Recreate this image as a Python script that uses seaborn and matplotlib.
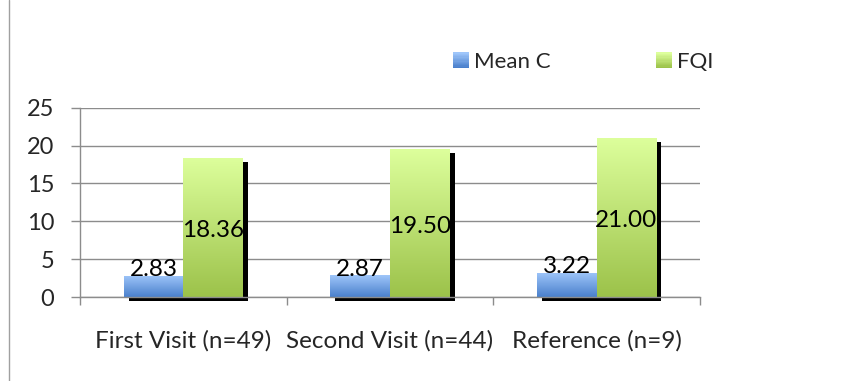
import numpy as np
import pandas as pd
import matplotlib
matplotlib.use("Agg")
import matplotlib.pyplot as plt
import matplotlib.transforms as mtransforms
from matplotlib.patches import Rectangle
from matplotlib.lines import Line2D
from matplotlib.legend_handler import HandlerBase
from matplotlib.colors import LinearSegmentedColormap, to_rgb
import seaborn as sns

categories = ["First Visit (n=49)", "Second Visit (n=44)", "Reference (n=9)"]
series_names = ["Mean C", "FQI"]
mean_c = [2.83, 2.87, 3.22]
fqi = [18.36, 19.50, 21.00]
yticks = [0, 5, 10, 15, 20, 25]

grad = {
    "Mean C": ("#9fc6fa", "#4a80cc"),
    "FQI": ("#ddff9c", "#9cc24a"),
}

df = pd.DataFrame({
    "category": categories * 2,
    "series": [series_names[0]] * 3 + [series_names[1]] * 3,
    "value": mean_c + fqi,
})

sns.set_theme(style="white")
plt.rcParams["font.family"] = ["Lato", "DejaVu Sans"]

fig = plt.figure(figsize=(8.51, 3.81), dpi=100)
ax = fig.add_axes([80 / 851, 84 / 381, 620 / 851, 189.3 / 381])

sns.barplot(data=df, x="category", y="value", hue="series", order=categories,
            hue_order=series_names, width=0.576, gap=0, ax=ax, legend=False,
            palette=[grad[s][1] for s in series_names], errorbar=None)

ax.set_xlim(-0.5, 2.5)
ax.set_ylim(0, 25)
ax.set_yticks(yticks)
ax.set_yticklabels([str(t) for t in yticks])

# gradient fill + shadow
patches = list(ax.patches)
shadow_tr = ax.transData + mtransforms.ScaledTranslation(5 / 100, -4 / 100, fig.dpi_scale_trans)
for i, p in enumerate(patches):
    s = series_names[i // 3]
    top, bot = grad[s]
    x0, y0 = p.get_x(), p.get_y()
    w, h = p.get_width(), p.get_height()
    sh = Rectangle((x0, y0), w, h, facecolor="black", edgecolor="none",
                   transform=shadow_tr, zorder=1, clip_on=False)
    ax.add_patch(sh)
    p.set_facecolor("none")
    p.set_edgecolor("none")
    cmap = LinearSegmentedColormap.from_list("g" + s, [bot, top])
    img = ax.imshow(np.linspace(0, 1, 256).reshape(-1, 1), cmap=cmap, aspect="auto",
                    origin="lower", extent=(x0, x0 + w, y0, y0 + h), zorder=3,
                    interpolation="bilinear")
    img.set_clip_path(p)
    p.set_zorder(3)
ax.set_xlim(-0.5, 2.5)
ax.set_ylim(0, 25)

# data labels
fs_lab = 17.5
for i, v in enumerate(mean_c):
    ax.text(i - 0.144, v + 0.75, f"{v:.2f}", ha="center", va="center", fontsize=fs_lab,
            color="black", zorder=5)
for i, v in enumerate(fqi):
    ax.text(i + 0.144, v / 2 - 0.4, f"{v:.2f}", ha="center", va="center", fontsize=fs_lab,
            color="black", zorder=5)

# grid & axes styling
ax.grid(axis="y", color="#8c8c8c", linewidth=1.0)
ax.set_axisbelow(True)
for side in ["top", "right"]:
    ax.spines[side].set_visible(False)
ax.spines["left"].set_color("#8c8c8c")
ax.spines["bottom"].set_color("#8c8c8c")
ax.spines["left"].set_linewidth(1.0)
ax.spines["bottom"].set_linewidth(1.0)
ax.spines["bottom"].set_zorder(4)
ax.set_xticks([-0.5, 0.5, 1.5, 2.5], minor=True)
ax.tick_params(axis="x", which="major", length=0, pad=24, labelsize=17.5)
ax.tick_params(axis="x", which="minor", length=6, width=1, color="#8c8c8c", direction="out", bottom=True)
ax.tick_params(axis="y", which="major", length=6.5, width=1, color="#8c8c8c", direction="out", left=True,
               labelsize=17, pad=12)
ax.set_xlabel("")
ax.set_ylabel("")


class GradHandler(HandlerBase):
    def __init__(self, top, bot):
        super().__init__()
        self.top, self.bot = to_rgb(top), to_rgb(bot)

    def create_artists(self, legend, orig_handle, xdescent, ydescent, width, height, fontsize, trans):
        n = 12
        arts = []
        for k in range(n):
            t = k / (n - 1)
            c = tuple(self.bot[j] * (1 - t) + self.top[j] * t for j in range(3))
            r = Rectangle((-xdescent, -ydescent + height * k / n), width, height / n + 0.3,
                          facecolor=c, edgecolor="none", transform=trans)
            arts.append(r)
        return arts


h1 = Rectangle((0, 0), 1, 1)
h2 = Rectangle((0, 0), 1, 1, facecolor="g")
leg = fig.legend([h1, h2], series_names, loc="center left", bbox_to_anchor=(433 / 851, 1 - 62 / 381),
                 ncol=2, frameon=False, fontsize=16, handlelength=0.7, handleheight=0.7,
                 handletextpad=0.25, columnspacing=4.75,
                 handler_map={h1: GradHandler(*grad["Mean C"]), h2: GradHandler(*grad["FQI"])})

fig.add_artist(Line2D([9 / 851, 9 / 851], [0, 1], color="#a0a0a0", linewidth=1, transform=fig.transFigure))

fig.savefig("out.png", dpi=100)
